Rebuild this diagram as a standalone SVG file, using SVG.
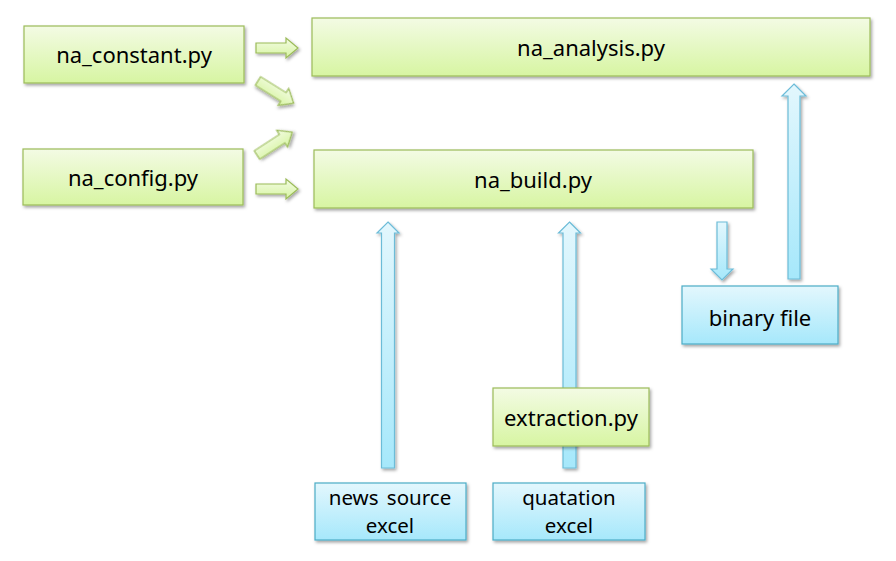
<svg xmlns="http://www.w3.org/2000/svg" width="896" height="561" viewBox="0 0 896 561">
<defs>
<linearGradient id="gg" x1="0" y1="0" x2="0" y2="1"><stop offset="0" stop-color="#f3fbe4"/><stop offset="1" stop-color="#d7f5a2"/></linearGradient>
<linearGradient id="bg" x1="0" y1="0" x2="0" y2="1"><stop offset="0" stop-color="#e3f7fd"/><stop offset="1" stop-color="#a6e8fb"/></linearGradient>
<filter id="sh" x="-10%" y="-10%" width="130%" height="140%"><feDropShadow dx="1.5" dy="2" stdDeviation="1.5" flood-color="#000" flood-opacity="0.35"/></filter>
<polygon id="ga" points="0,-5 30,-5 30,-10 42,0 30,10 30,5 0,5"/>
</defs>
<style>
.g{fill:url(#gg);stroke:#9bbb59;stroke-width:1.2;filter:url(#sh)}
.b{fill:url(#bg);stroke:#4bacc6;stroke-width:1.2;filter:url(#sh)}
.ga{fill:url(#gg);stroke:#9bbb59;stroke-width:1.2;filter:url(#sh)}
.ba{fill:url(#bg);stroke:#6cbcd8;stroke-width:1.2;filter:url(#sh)}
text{font-family:"Noto Sans","Noto Sans CJK KR",sans-serif;font-size:22px;fill:#000;text-anchor:middle}
text.two{font-size:20.5px;word-spacing:3px}
</style>
<g id="connectors">
<use href="#ga" class="ga" transform="translate(256,48)"/>
<use href="#ga" class="ga" transform="translate(258,81) rotate(32)"/>
<use href="#ga" class="ga" transform="translate(257,155) rotate(-33)"/>
<use href="#ga" class="ga" transform="translate(256,189)"/>
<polygon class="ba" points="388,222 399,233 394.5,233 394.5,468 381.5,468 381.5,233 377,233"/>
<polygon class="ba" points="569.5,222 580.5,233 576,233 576,468 563,468 563,233 558.5,233"/>
<polygon class="ba" points="794,84 806,96 800,96 800,279 788,279 788,96 782,96"/>
<polygon class="ba" points="717,222 727,222 727,269 733,269 722,280 711,269 717,269"/>
</g>
<g id="na_constant"><rect class="g" x="24" y="26" width="220" height="57"/><text x="134" y="63">na_constant.py</text></g>
<g id="na_config"><rect class="g" x="23" y="149" width="220" height="56"/><text x="133" y="186">na_config.py</text></g>
<g id="na_analysis"><rect class="g" x="312" y="18" width="558" height="58"/><text x="591" y="56">na_analysis.py</text></g>
<g id="na_build"><rect class="g" x="314" y="150" width="439" height="58"/><text x="533" y="188">na_build.py</text></g>
<g id="binary_file"><rect class="b" x="682" y="286" width="156" height="58"/><text x="760" y="326">binary file</text></g>
<g id="extraction"><rect class="g" x="493" y="388" width="156" height="58"/><text x="571" y="426">extraction.py</text></g>
<g id="news_source"><rect class="b" x="315" y="483" width="151" height="57"/><text class="two" x="390" y="505">news source</text><text class="two" x="390" y="533">excel</text></g>
<g id="quatation"><rect class="b" x="493" y="483" width="152" height="57"/><text class="two" x="569" y="505">quatation</text><text class="two" x="569" y="533">excel</text></g>
</svg>
